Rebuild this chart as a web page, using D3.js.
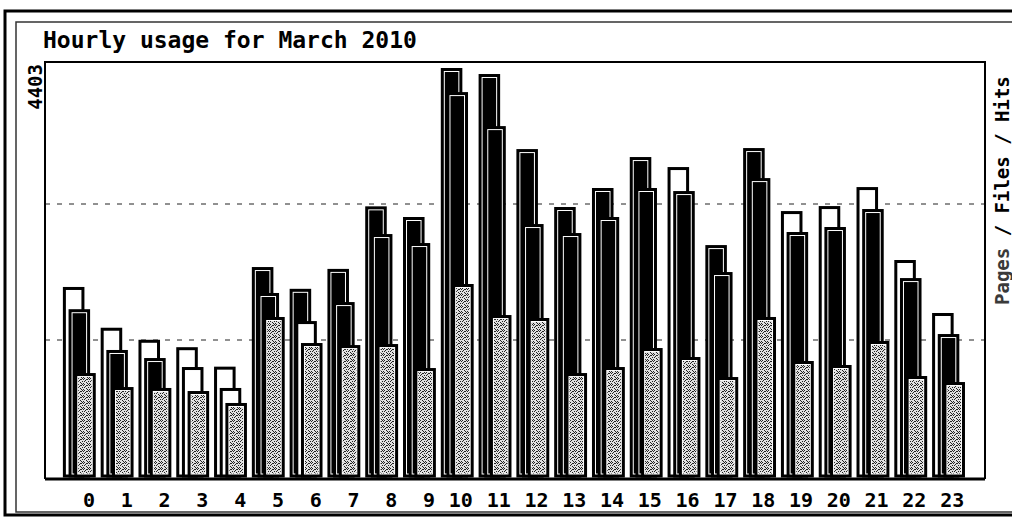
<!DOCTYPE html>
<html>
<head>
<meta charset="utf-8">
<script src="https://cdn.jsdelivr.net/npm/d3@7"></script>
<style>
  html, body { margin: 0; padding: 0; background: #fff; }
  svg { display: block; }
  text { font-family: "DejaVu Sans Mono", "Liberation Mono", monospace; font-weight: bold; }
</style>
</head>
<body>
<svg id="chart" width="1012" height="518"></svg>
<script>
const hourLabels = ["0", "1", "2", "3", "4", "5", "6", "7", "8", "9", "10", "11",
  "12", "13", "14", "15", "16", "17", "18", "19", "20", "21", "22", "23"];
const hits = [2040, 1600, 1470, 1390, 1180, 2255, 2020, 2235, 2910, 2795, 4403, 4338,
  3528, 2903, 3108, 3442, 3334, 2492, 3539, 2859, 2913, 3118, 2331, 1759];
const files = [1800, 1360, 1273, 1176, 950, 1975, 1672, 1877, 2611, 2514, 4143, 3776,
  2719, 2622, 2795, 3108, 3075, 2201, 3215, 2633, 2687, 2881, 2136, 1532];
const pages = [1111, 960, 950, 917, 788, 1716, 1435, 1413, 1424, 1165, 2072, 1737,
  1705, 1111, 1176, 1381, 1284, 1068, 1716, 1241, 1198, 1457, 1079, 1014];
const maxValue = 4403;
const sideLabel = [["Pages", "#3a3a3a"], [" / Files / ", "#000"], ["Hits", "#000"]];

// the scan came out with some hits / files bars light instead of dark
const lightHits = new Set([0, 1, 2, 3, 4, 16, 19, 20, 21, 22, 23]);
const lightFiles = new Set([3, 4, 6]);

const svg = d3.select("#chart");
const plot = { left: 45, top: 62, right: 985, bottom: 479 };

const x = d3.scaleBand().domain(hourLabels).range([61, 968]).padding(0);
const y = d3.scaleLinear().domain([0, maxValue]).range([476, 68]);
const bw = x.bandwidth();

// stipple used for the pages bars
const defs = svg.append("defs");
const pat = defs.append("pattern")
  .attr("id", "stipple")
  .attr("width", 6)
  .attr("height", 6)
  .attr("patternUnits", "userSpaceOnUse");
pat.append("rect").attr("width", 6).attr("height", 6).attr("fill", "#e0e0e0");
[[0, 0], [3, 1], [1, 2], [4, 3], [2, 4], [5, 5], [0, 3], [3, 5], [5, 1], [2, 1], [4, 0]].forEach(([px, py]) => {
  pat.append("rect").attr("x", px).attr("y", py).attr("width", 1).attr("height", 1).attr("fill", "#222");
});

// outer frames
svg.append("rect")
  .attr("x", 5).attr("y", 11).attr("width", 1020).attr("height", 504)
  .attr("fill", "none").attr("stroke", "#000").attr("stroke-width", 3);
svg.append("rect")
  .attr("x", 16).attr("y", 22).attr("width", 1010).attr("height", 490)
  .attr("fill", "none").attr("stroke", "#333").attr("stroke-width", 1.5);

svg.append("text")
  .attr("x", 43).attr("y", 48)
  .attr("font-size", 23)
  .text("Hourly usage for March 2010");

// grid lines at 1/3 and 2/3 of the max
svg.append("g")
  .selectAll("line")
  .data([maxValue / 3, (maxValue * 2) / 3])
  .join("line")
  .attr("x1", plot.left).attr("x2", plot.right)
  .attr("y1", (d) => y(d)).attr("y2", (d) => y(d))
  .attr("stroke", "#222")
  .attr("stroke-width", 1)
  .attr("stroke-dasharray", "5,7");

const series = [
  { values: hits, offset: 0.05, ink: (i) => (lightHits.has(i) ? "#fff" : "#000") },
  { values: files, offset: 0.2, ink: (i) => (lightFiles.has(i) ? "#fff" : "#000") },
  { values: pages, offset: 0.35, ink: () => "url(#stipple)" },
];

const barW = bw * 0.57;
series.forEach((s) => {
  const g = svg.append("g");
  const bars = g.selectAll("g")
    .data(s.values.map((v, i) => ({ v, i, hour: hourLabels[i] })))
    .join("g");
  bars.append("rect")
    .attr("x", (d) => x(d.hour) + bw * s.offset + 1.5)
    .attr("y", (d) => y(d.v) + 1.5)
    .attr("width", barW - 3)
    .attr("height", (d) => y(0) - y(d.v) - 1.5)
    .attr("fill", "#fff")
    .attr("stroke", "#000")
    .attr("stroke-width", 3);
  bars.append("rect")
    .attr("x", (d) => x(d.hour) + bw * s.offset + 4)
    .attr("y", (d) => y(d.v) + 4)
    .attr("width", barW - 8)
    .attr("height", (d) => Math.max(0, y(0) - y(d.v) - 6.5))
    .attr("fill", (d) => s.ink(d.i));
});

// plot border
svg.append("path")
  .attr("d", `M${plot.left},${plot.bottom}V${plot.top}H${plot.right}V${plot.bottom}`)
  .attr("fill", "none")
  .attr("stroke", "#000")
  .attr("stroke-width", 2);
svg.append("line")
  .attr("x1", plot.left).attr("x2", plot.right)
  .attr("y1", plot.bottom).attr("y2", plot.bottom)
  .attr("stroke", "#000")
  .attr("stroke-width", 3);

svg.append("g")
  .selectAll("text")
  .data(hourLabels)
  .join("text")
  .attr("x", (d) => x(d) + bw * 0.9)
  .attr("y", 507)
  .attr("text-anchor", "end")
  .attr("font-size", 20)
  .text((d) => d);

svg.append("text")
  .attr("transform", "translate(42,64) rotate(-90)")
  .attr("text-anchor", "end")
  .attr("font-size", 19)
  .text(d3.format("d")(maxValue));

const side = svg.append("text")
  .attr("transform", "translate(1009,305) rotate(-90)")
  .attr("font-size", 19);
sideLabel.forEach(([t, c]) => side.append("tspan").attr("fill", c).attr("xml:space", "preserve").text(t));
</script>
</body>
</html>
